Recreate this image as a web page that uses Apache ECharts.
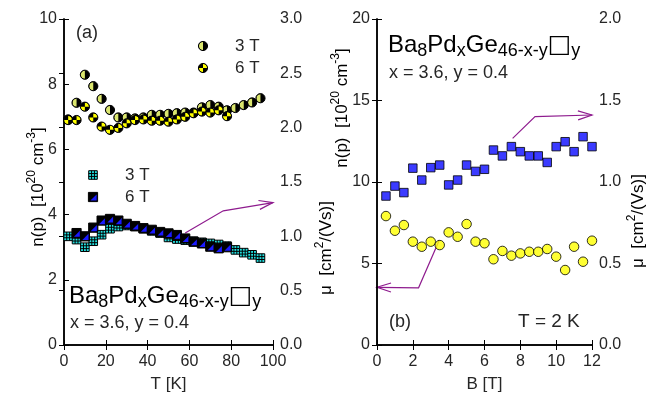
<!DOCTYPE html>
<html lang="en">
<head>
    <meta charset="utf-8">
    <title>Ba8PdxGe46 Hall data</title>
    <script src="https://cdn.jsdelivr.net/npm/echarts@6/dist/echarts.min.js"></script>
</head>
<body style="margin:0">
    <div id="main" style="width: 649px; height: 401px;"></div>
<script type="text/javascript">
    // panel (a): n(p) vs T (circles, left axis) and mu vs T (squares, right axis)
    let tN3 = [2, 6, 10, 14, 18, 22, 26, 30, 34, 38, 42, 46, 50, 54, 58, 62, 66, 70, 74, 78, 82, 86, 90, 94];
    let n3T = [6.92, 7.43, 8.29, 7.94, 7.55, 7.21, 6.98, 6.98, 6.95, 6.98, 7.06, 7.06, 7.09, 7.11, 7.13, 7.13, 7.29, 7.36, 7.31, 7.20, 7.27, 7.36, 7.44, 7.57];
    let tN6 = [2, 6, 10, 14, 18, 22, 26, 30, 34, 38, 42, 46, 50, 54, 58, 62, 66, 70, 74, 78];
    let n6T = [6.90, 6.90, 7.31, 6.98, 6.70, 6.60, 6.66, 6.80, 6.90, 6.92, 6.88, 6.88, 6.85, 6.92, 7.00, 7.11, 7.16, 7.13, 7.20, 7.02];
    let tM3 = [2, 6, 10, 14, 18, 22, 26, 30, 34, 38, 42, 46, 50, 54, 58, 62, 66, 70, 74, 78, 82, 86, 90, 94];
    let mu3T = [1.00, 0.97, 0.90, 0.955, 1.015, 1.07, 1.09, 1.10, 1.09, 1.07, 1.05, 1.03, 0.99, 0.975, 0.965, 0.955, 0.945, 0.935, 0.925, 0.91, 0.875, 0.85, 0.83, 0.80];
    let tM6 = [6, 10, 14, 18, 22, 26, 30, 34, 38, 42, 46, 50, 54, 58, 62, 66, 70, 74, 78];
    let mu6T = [1.03, 1.00, 1.08, 1.145, 1.16, 1.145, 1.115, 1.095, 1.075, 1.06, 1.04, 1.027, 1.012, 0.98, 0.95, 0.935, 0.905, 0.89, 0.90];

    // panel (b): T = 2 K, vs field
    let fieldB = [0.5, 1, 1.5, 2, 2.5, 3, 3.5, 4, 4.5, 5, 5.5, 6, 6.5, 7, 7.5, 8, 8.5, 9, 9.5, 10, 10.5, 11, 11.5, 12];
    let muB = [0.914, 0.975, 0.935, 1.085, 1.012, 1.088, 1.104, 0.982, 1.012, 1.104, 1.065, 1.078, 1.196, 1.16, 1.217, 1.186, 1.16, 1.16, 1.12, 1.217, 1.247, 1.186, 1.278, 1.217];
    let nB = [7.91, 7.01, 7.36, 6.34, 6.03, 6.34, 6.13, 6.91, 6.64, 7.42, 6.34, 6.24, 5.26, 5.77, 5.48, 5.62, 5.72, 5.72, 5.89, 5.42, 4.60, 6.03, 5.11, 6.40];

    let chart = echarts.init(document.getElementById('main'));
    let txt = '#262626';
    let font = 'Liberation Sans, Arial, sans-serif';

    function zip(a, b) { return a.map((v, i) => [v, b[i]]); }

    // patterned markers (KaleidaGraph style)
    function markerShapes(kind, x, y) {
        let ch = [];
        if (kind == 'half' || kind == 'quarter') {
            let r = 4.6;
            ch.push({ type: 'circle', shape: { cx: x, cy: y, r: r }, style: { fill: '#000' } });
            let secs = kind == 'half' ? [[Math.PI / 2, Math.PI * 1.5]] : [[Math.PI * 1.5, Math.PI * 2], [Math.PI / 2, Math.PI]];
            let col = kind == 'half' ? '#dbe66e' : '#ffff00';
            secs.forEach(s => ch.push({ type: 'sector', shape: { cx: x, cy: y, r: r - 0.6, r0: 0, startAngle: s[0], endAngle: s[1], clockwise: true }, style: { fill: col } }));
            ch.push({ type: 'circle', shape: { cx: x, cy: y, r: r }, style: { fill: null, stroke: '#000', lineWidth: 1 } });
        } else if (kind == 'grid') {
            let s = 4.3;
            ch.push({ type: 'rect', shape: { x: x - s, y: y - s, width: 2 * s, height: 2 * s }, style: { fill: '#22e0e0', stroke: '#000', lineWidth: 1 } });
            [-s / 3, s / 3].forEach(d => {
                ch.push({ type: 'line', shape: { x1: x + d, y1: y - s, x2: x + d, y2: y + s }, style: { stroke: '#000', lineWidth: 1 } });
                ch.push({ type: 'line', shape: { x1: x - s, y1: y + d, x2: x + s, y2: y + d }, style: { stroke: '#000', lineWidth: 1 } });
            });
        } else {
            let s = 4.6;
            ch.push({ type: 'rect', shape: { x: x - s, y: y - s, width: 2 * s, height: 2 * s }, style: { fill: '#000', stroke: '#000', lineWidth: 1 } });
            ch.push({ type: 'polygon', shape: { points: [[x + s - 1, y - s + 2], [x + s - 1, y + s - 1], [x - s + 2, y + s - 1]] }, style: { fill: '#1a1aff' } });
        }
        return ch;
    }

    function customSeries(name, kind, data, yIdx) {
        return {
            name: name, type: 'custom', xAxisIndex: 0, yAxisIndex: yIdx, data: data,
            encode: { x: 0, y: 1 }, clip: false,
            renderItem: function (params, api) {
                let p = api.coord([api.value(0), api.value(1)]);
                return { type: 'group', children: markerShapes(kind, p[0], p[1]) };
            }
        };
    }

    function xAx(grid, max, interval, name) {
        return {
            gridIndex: grid, min: 0, max: max, interval: interval, name: name,
            nameLocation: 'middle', nameGap: 31, nameTextStyle: { fontSize: 17, color: txt, fontFamily: font },
            axisLine: { lineStyle: { color: '#000', width: 1.5 } },
            axisTick: { inside: true, length: 5, lineStyle: { color: '#000' } },
            axisLabel: { fontSize: 16, color: txt, fontFamily: font, margin: 9 },
            splitLine: { show: false }
        };
    }
    function topAx(grid, max, interval) {
        return {
            gridIndex: grid, position: 'top', min: 0, max: max, interval: interval,
            axisLine: { lineStyle: { color: '#000', width: 1.5 } },
            axisTick: { inside: true, length: 5, lineStyle: { color: '#000' } },
            axisLabel: { show: false }, splitLine: { show: false }
        };
    }
    function yAx(grid, pos, max, interval, dec) {
        return {
            gridIndex: grid, position: pos, min: 0, max: max, interval: interval,
            axisLine: { show: true, lineStyle: { color: '#000', width: 1.5 } },
            axisTick: { show: true, inside: true, length: 5, lineStyle: { color: '#000' } },
            axisLabel: { fontSize: 16, color: txt, fontFamily: font, margin: 7, formatter: v => v.toFixed(dec) },
            splitLine: { show: false }
        };
    }

    let option = {
        animation: false,
        backgroundColor: '#fff',
        grid: [
            { left: 64, right: 376, top: 19, bottom: 56 },
            { left: 377, right: 57, top: 19, bottom: 56 }
        ],
        xAxis: [
            xAx(0, 100, 20, 'T [K]'),
            xAx(1, 12, 2, 'B [T]'),
            topAx(0, 100, 20),
            topAx(1, 12, 2)
        ],
        yAxis: [
            yAx(0, 'left', 10, 2, 0),
            yAx(0, 'right', 3, 0.5, 1),
            yAx(1, 'left', 20, 5, 0),
            yAx(1, 'right', 2, 0.5, 1)
        ],
        series: [
            customSeries('n 3T', 'half', zip(tN3, n3T), 0),
            customSeries('n 6T', 'quarter', zip(tN6, n6T), 0),
            customSeries('mu 3T', 'grid', zip(tM3, mu3T), 1),
            customSeries('mu 6T', 'tri', zip(tM6, mu6T), 1),
            {
                name: 'mu B', type: 'scatter', xAxisIndex: 1, yAxisIndex: 3, data: zip(fieldB, muB),
                symbol: 'rect', symbolSize: 8.5, itemStyle: { color: '#0a0aff', borderColor: '#000', borderWidth: 1 }
            },
            {
                name: 'n B', type: 'scatter', xAxisIndex: 1, yAxisIndex: 2, data: zip(fieldB, nB),
                symbol: 'circle', symbolSize: 9.5, itemStyle: { color: '#ffff00', borderColor: '#000', borderWidth: 1 }
            }
        ]
    };
    chart.setOption(option);

    // annotations: axis titles, texts, in-plot legends and arrows
    let base = { fontSize: 17, fontFamily: font, color: txt };
    let sup = { fontSize: 12, fontFamily: font, color: txt, padding: [0, 0, 12, 0] };
    let big = { fontSize: 24, fontFamily: font, color: txt };
    let box = { fontSize: 25, fontFamily: 'DejaVu Sans', color: txt };
    let sub = { fontSize: 18, fontFamily: font, color: txt, padding: [12, 0, 0, 0] };
    let formula = '{b|Ba}{s|8}{b|Pd}{s|x}{b|Ge}{s|46-x-y}{q|\u25a1}{s|y}';
    let nName = '{n|n(p)  [10}{sup|20}{n| cm}{sup|-3}{n|]}';
    let muName = '{n|\u03bc  [cm}{sup|2}{n|/(Vs)]}';

    function label(text, x, y, size) {
        return { type: 'text', x: x, y: y, style: { text: text, fill: txt, font: size + 'px ' + font, verticalAlign: 'middle' } };
    }
    function vtitle(text, x, y) {
        return { type: 'text', x: x, y: y, rotation: Math.PI / 2, style: { text: text, rich: { n: base, sup: sup }, align: 'center', verticalAlign: 'middle' } };
    }
    function formulaText(x, y) {
        return { type: 'text', x: x, y: y, style: { text: formula, rich: { b: big, s: sub, q: box }, verticalAlign: 'middle' } };
    }
    let g = [
        vtitle(nName, 38, 187),
        vtitle(muName, 326, 248),
        vtitle(nName, 342, 108),
        vtitle(muName, 638, 221),
        label('(a)', 76, 33, 18),
        label('3 T', 235, 46, 17),
        label('6 T', 235, 68, 17),
        label('3 T', 125, 175, 17),
        label('6 T', 125, 197, 17),
        formulaText(69, 296),
        label('x = 3.6, y = 0.4', 70, 323, 18),
        formulaText(388, 45),
        label('x = 3.6, y = 0.4', 389, 73, 18),
        label('(b)', 389, 322, 18),
        label('T = 2 K', 518, 322, 19)
    ];
    [['half', 203, 46], ['quarter', 203, 68], ['grid', 93, 175], ['tri', 93, 197]].forEach(m => {
        g.push({ type: 'group', children: markerShapes(m[0], m[1], m[2]) });
    });

    function arrow(seriesIndex, pts) {
        let px = pts.map(p => chart.convertToPixel({ seriesIndex: seriesIndex }, p));
        let a = px[px.length - 1], b = px[px.length - 2];
        let dx = a[0] - b[0], dy = a[1] - b[1], L = Math.sqrt(dx * dx + dy * dy);
        let ux = dx / L, uy = dy / L, hl = 14, hw = 4.5;
        let col = '#8e1b8e';
        g.push({ type: 'polyline', shape: { points: px }, style: { stroke: col, lineWidth: 1.2, fill: null } });
        g.push({
            type: 'polyline',
            shape: { points: [[a[0] - ux * hl - uy * hw, a[1] - uy * hl + ux * hw], a, [a[0] - ux * hl + uy * hw, a[1] - uy * hl - ux * hw]] },
            style: { stroke: col, lineWidth: 1.2, fill: null }
        });
    }
    arrow(2, [[58, 1.03], [76.2, 1.235], [100, 1.31]]);
    arrow(4, [[7.57, 1.268], [8.82, 1.401], [12, 1.411]]);
    arrow(5, [[3.48, 6.44], [2.32, 3.51], [0, 3.54]]);

    chart.setOption({ graphic: g });
</script>
</body>
</html>
